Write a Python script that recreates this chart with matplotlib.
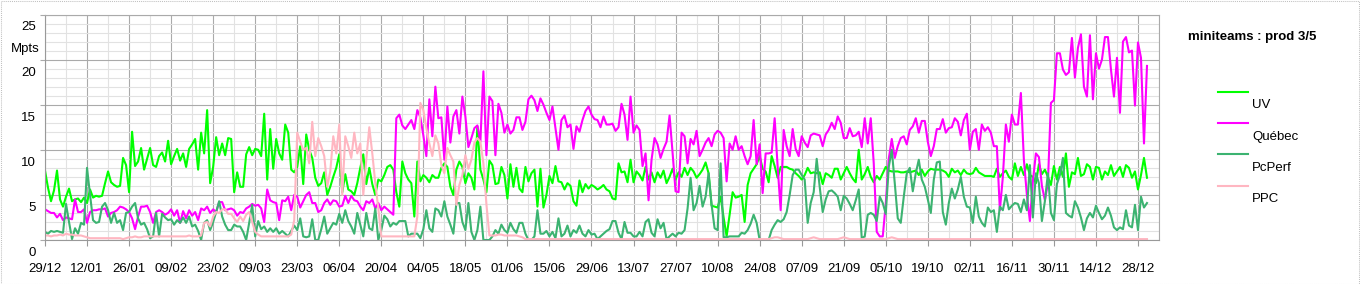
import matplotlib
matplotlib.use("Agg")
import matplotlib.pyplot as plt
from matplotlib.ticker import MultipleLocator
from matplotlib.patches import Rectangle
from matplotlib.lines import Line2D
import numpy as np

plt.rcParams['font.family'] = ['Liberation Sans', 'DejaVu Sans']
plt.rcParams['font.size'] = 9.5

# Legend / series setup
series_names = ['UV', 'Québec', 'PcPerf', 'PPC']
series_colors = ['#00ff00', '#ff00ff', '#3cb371', '#ffb6c1']
chart_title = 'miniteams : prod 3/5'
y_unit = 'Mpts'

# x tick labels, one every 14 days starting at day 0
date_labels = ['29/12', '12/01', '26/01', '09/02', '23/02', '09/03', '23/03',
               '06/04', '20/04', '04/05', '18/05', '01/06', '15/06', '29/06',
               '13/07', '27/07', '10/08', '24/08', '07/09', '21/09', '05/10',
               '19/10', '02/11', '16/11', '30/11', '14/12', '28/12']
y_ticks = [0, 5, 10, 15, 20, 25]

# Daily values (Mpts)
uv = [
    7.7, 5.8, 4.3, 5.5, 7.7, 4.5, 3.7, 4.8, 5.7, 4.3,
    4.5, 4.6, 4.2, 4.7, 4.1, 5.6, 4.7, 4.9, 4.8, 4.9,
    6.3, 7.6, 6.4, 6.1, 5.9, 6.0, 9.1, 8.3, 5.3, 12.0,
    8.2, 8.7, 10.2, 7.8, 9.0, 10.2, 8.3, 8.1, 9.3, 9.7,
    8.7, 11.0, 8.4, 9.3, 10.1, 8.8, 9.6, 8.1, 10.1, 10.6,
    11.2, 7.8, 11.9, 9.6, 14.4, 6.3, 8.1, 11.4, 9.4, 10.7,
    9.4, 11.3, 11.2, 5.3, 7.5, 5.9, 5.9, 9.5, 10.3, 9.4,
    10.1, 10.0, 9.3, 14.0, 6.7, 12.3, 7.9, 11.2, 9.6, 8.9,
    12.8, 11.9, 7.8, 7.5, 8.1, 10.4, 6.2, 11.7, 10.0, 9.1,
    6.9, 6.0, 6.3, 7.5, 5.0, 5.9, 7.0, 8.0, 9.5, 5.3,
    7.3, 5.6, 5.4, 5.0, 6.3, 8.0, 9.5, 6.2, 8.0, 6.2,
    5.0, 6.7, 6.5, 7.2, 8.1, 8.3, 7.8, 5.3, 3.7, 8.7,
    7.4, 6.7, 6.3, 2.6, 8.7, 6.5, 7.2, 6.9, 6.4, 7.2,
    6.9, 6.9, 8.0, 8.5, 8.1, 5.9, 5.0, 7.8, 8.7, 8.1,
    6.3, 7.4, 6.9, 5.6, 12.6, 7.8, 6.7, 5.3, 8.8, 8.3,
    6.2, 6.3, 8.1, 7.2, 4.6, 8.4, 5.9, 8.0, 5.7, 5.3,
    8.1, 6.5, 7.4, 7.8, 3.7, 7.9, 3.6, 5.0, 7.1, 6.3,
    8.2, 6.5, 6.4, 5.6, 6.3, 6.0, 4.3, 3.8, 6.6, 5.3,
    6.2, 5.7, 6.1, 5.9, 5.6, 5.8, 6.1, 5.6, 5.4, 4.6,
    4.5, 8.5, 7.5, 7.6, 6.4, 8.9, 6.4, 7.6, 7.2, 6.6,
    8.1, 6.7, 7.5, 6.4, 7.5, 6.9, 7.7, 6.3, 7.0, 7.9,
    6.7, 7.5, 7.0, 8.0, 7.2, 8.0, 7.6, 6.9, 7.3, 7.8,
    8.6, 7.4, 3.8, 3.7, 3.6, 4.8, 2.5, 0.4, 2.8, 5.3,
    4.7, 4.8, 5.0, 2.0, 6.1, 7.4, 7.9, 8.4, 9.3, 7.9,
    7.6, 6.4, 9.3, 8.2, 6.9, 8.1, 8.1, 8.1, 7.9, 7.8,
    7.4, 7.1, 6.7, 7.2, 8.0, 7.4, 7.5, 7.4, 7.5, 6.2,
    7.4, 7.2, 6.9, 7.9, 7.9, 6.7, 7.4, 8.1, 7.4, 6.8,
    6.4, 10.0, 6.7, 7.3, 8.1, 7.0, 6.4, 7.1, 6.7, 7.4,
    8.1, 7.7, 7.6, 7.6, 7.6, 7.5, 7.5, 7.6, 7.5, 7.6,
    7.7, 7.2, 7.8, 7.1, 7.6, 7.9, 7.8, 7.8, 7.8, 7.7,
    7.5, 7.0, 7.9, 7.5, 7.7, 7.2, 7.8, 7.4, 7.3, 7.4,
    8.0, 7.5, 7.3, 7.1, 7.1, 7.1, 7.0, 7.9, 7.0, 7.4,
    7.7, 7.0, 6.7, 8.5, 7.1, 8.1, 7.2, 8.4, 7.2, 7.0,
    6.3, 8.4, 7.3, 7.8, 7.0, 6.1, 8.2, 6.7, 8.1, 7.0,
    9.6, 5.9, 7.5, 7.3, 9.1, 7.1, 7.3, 8.4, 8.1, 6.7,
    8.1, 8.0, 6.7, 7.6, 7.2, 8.3, 7.1, 7.6, 8.1, 7.0,
    8.3, 8.0, 6.9, 7.6, 5.6, 7.2, 9.1, 6.9,
]

quebec = [
    3.4, 3.2, 3.0, 3.0, 2.5, 2.9, 2.2, 2.5, 2.4, 2.3,
    4.5, 3.1, 3.1, 3.4, 1.9, 3.1, 3.3, 3.3, 3.4, 3.4,
    3.5, 2.6, 3.0, 3.1, 3.3, 3.7, 3.6, 3.4, 3.1, 2.4,
    1.2, 2.6, 3.7, 3.7, 3.8, 3.1, 1.9, 3.1, 3.3, 3.1,
    2.8, 3.0, 3.4, 2.7, 3.3, 1.9, 3.2, 2.4, 3.3, 2.7,
    3.1, 2.2, 3.5, 3.3, 3.7, 3.0, 3.4, 3.1, 4.2, 4.2,
    3.3, 3.4, 3.5, 3.3, 2.7, 3.1, 3.0, 3.5, 3.7, 4.0,
    3.8, 3.9, 3.5, 2.0, 5.6, 4.4, 4.2, 4.1, 2.2, 4.4,
    4.3, 4.8, 3.3, 5.0, 4.8, 3.6, 4.3, 5.0, 5.3, 4.1,
    4.1, 3.1, 3.3, 4.1, 4.5, 3.9, 4.4, 4.3, 3.7, 3.8,
    4.9, 4.1, 4.9, 4.4, 4.3, 3.7, 3.3, 4.3, 4.1, 4.5,
    3.5, 4.1, 3.3, 3.7, 3.4, 3.1, 2.8, 13.5, 13.9, 12.7,
    12.3, 12.8, 13.3, 12.3, 14.4, 13.6, 11.6, 9.3, 15.6, 11.5,
    17.0, 13.5, 13.6, 8.9, 14.8, 10.8, 13.7, 14.4, 11.8, 15.9,
    13.7, 10.3, 11.3, 12.4, 12.7, 10.9, 18.7, 9.4, 15.9, 15.4,
    9.4, 15.1, 14.1, 11.9, 12.8, 11.8, 12.2, 13.6, 13.6, 12.2,
    13.1, 15.6, 16.0, 15.5, 14.3, 15.7, 15.0, 14.1, 13.3, 14.8,
    12.4, 10.0, 13.3, 13.8, 12.5, 12.8, 10.1, 12.6, 12.0, 13.3,
    14.3, 14.8, 13.9, 13.4, 13.3, 12.5, 13.7, 12.8, 12.8, 12.9,
    12.1, 12.5, 15.1, 13.9, 11.1, 15.9, 11.9, 12.7, 12.2, 8.2,
    9.6, 4.4, 8.9, 11.3, 10.6, 9.1, 10.1, 10.9, 13.8, 9.7,
    5.4, 5.3, 11.9, 11.5, 8.5, 11.2, 10.6, 12.1, 9.3, 10.0,
    10.8, 11.3, 10.4, 11.7, 12.1, 11.9, 11.3, 6.5, 10.7, 10.0,
    11.5, 10.0, 10.4, 9.3, 8.4, 9.3, 13.3, 8.4, 10.6, 5.2,
    9.6, 9.6, 9.7, 13.5, 8.1, 3.3, 12.2, 10.4, 9.3, 12.3,
    10.1, 9.3, 11.5, 10.8, 10.3, 11.6, 11.8, 11.7, 11.6, 10.4,
    11.7, 12.2, 13.0, 12.3, 13.7, 13.0, 11.3, 11.3, 12.4, 11.5,
    11.6, 12.0, 10.3, 13.5, 10.7, 13.5, 8.5, 0.9, 0.4, 0.4,
    4.0, 9.0, 11.2, 9.1, 10.4, 11.3, 11.5, 10.6, 12.2, 12.6,
    13.5, 11.9, 13.2, 13.2, 10.9, 9.3, 10.4, 12.3, 12.3, 13.4,
    11.9, 12.4, 12.5, 13.5, 13.1, 11.6, 13.3, 14.0, 10.0, 12.0,
    12.3, 10.0, 12.8, 12.1, 12.5, 11.9, 10.4, 10.4, 3.3, 7.0,
    12.8, 10.9, 13.9, 12.8, 12.8, 16.3, 8.9, 5.0, 2.1, 6.5,
    9.6, 9.2, 6.0, 4.4, 6.3, 15.2, 15.5, 20.7, 20.7, 18.9,
    18.3, 18.6, 22.4, 18.0, 21.3, 22.8, 17.0, 15.9, 22.7, 15.6,
    20.7, 19.0, 20.0, 22.5, 22.5, 18.9, 15.9, 20.2, 14.1, 22.0,
    22.5, 20.8, 21.0, 14.9, 21.9, 20.2, 10.7, 19.3,
]

pcperf = [
    0.9, 0.7, 1.0, 0.9, 1.0, 0.9, 0.8, 4.0, 2.0, 0.1,
    1.3, 0.7, 1.9, 1.7, 8.0, 5.0, 2.2, 1.9, 2.0, 3.7,
    4.1, 3.3, 1.9, 3.0, 1.9, 2.2, 1.1, 3.0, 3.1, 3.7,
    4.1, 2.4, 1.7, 1.9, 1.2, 0.2, 0.4, 3.0, 0.4, 2.9,
    2.5, 2.2, 2.3, 1.7, 2.2, 1.9, 2.5, 1.9, 2.6, 1.5,
    1.7, 1.0, 0.0, 1.9, 2.2, 1.1, 2.0, 3.1, 4.3, 2.6,
    1.7, 1.1, 1.1, 1.7, 1.5, 1.5, 0.9, 0.0, 1.9, 3.9,
    0.4, 2.1, 1.2, 1.5, 0.9, 1.3, 0.9, 1.3, 0.7, 1.0,
    0.7, 0.4, 1.0, 1.6, 1.1, 2.4, 0.4, 0.3, 0.4, 2.3,
    0.0, 0.0, 1.2, 2.6, 0.7, 1.3, 1.9, 1.7, 2.9, 1.9,
    3.3, 2.1, 1.5, 0.7, 3.0, 1.7, 0.4, 3.0, 1.3, 1.1,
    3.5, 0.0, 1.1, 2.7, 2.3, 1.5, 1.9, 1.7, 2.1, 2.1,
    2.1, 0.4, 0.7, 0.7, 0.7, 0.2, 1.2, 3.3, 1.3, 0.9,
    3.5, 3.3, 2.6, 4.3, 2.6, 1.7, 0.7, 4.1, 4.1, 2.0,
    1.1, 4.1, 0.9, 0.0, 1.1, 3.7, 0.0, 0.0, 0.0, 0.4,
    1.1, 0.7, 1.7, 1.1, 0.8, 1.9, 1.2, 0.8, 1.9, 1.9,
    0.7, 0.0, 0.0, 0.4, 3.3, 0.7, 0.7, 1.0, 0.4, 0.9,
    0.2, 2.4, 0.4, 0.7, 1.6, 0.4, 1.1, 0.8, 1.6, 0.7,
    0.4, 1.1, 0.6, 0.7, 0.1, 0.4, 0.7, 1.0, 1.2, 2.1,
    2.1, 0.8, 0.1, 2.0, 0.8, 0.8, 0.4, 0.4, 0.9, 0.4,
    2.0, 2.3, 0.8, 0.4, 2.3, 1.3, 1.9, 0.1, 0.4, 0.7,
    0.4, 0.8, 0.7, 1.1, 3.5, 6.9, 3.3, 4.1, 6.0, 3.7,
    4.8, 7.4, 3.9, 1.3, 1.1, 8.5, 0.3, 0.3, 0.4, 0.4,
    0.4, 0.4, 0.8, 0.7, 1.1, 1.8, 2.8, 1.9, 0.0, 0.0,
    0.0, 0.0, 1.1, 1.7, 2.2, 2.0, 2.3, 3.1, 5.0, 7.2,
    7.8, 7.8, 7.2, 6.7, 1.9, 4.1, 5.3, 9.0, 5.9, 3.1,
    4.5, 5.4, 5.5, 5.2, 4.8, 3.3, 4.9, 4.6, 4.0, 3.3,
    4.4, 5.6, 0.2, 0.4, 2.8, 3.0, 2.8, 2.1, 4.8, 4.1,
    2.9, 8.1, 10.0, 6.3, 2.4, 1.9, 4.8, 7.4, 8.0, 5.4,
    7.4, 8.9, 6.7, 5.9, 4.5, 3.0, 6.7, 8.6, 8.7, 3.1,
    1.7, 4.1, 5.7, 4.6, 5.6, 7.0, 4.8, 3.7, 3.6, 1.9,
    4.8, 2.6, 1.9, 1.5, 3.6, 3.1, 3.3, 0.9, 3.7, 3.3,
    5.0, 3.4, 3.8, 4.1, 4.0, 3.1, 4.5, 3.3, 8.3, 2.5,
    7.4, 6.3, 2.1, 4.3, 7.4, 3.0, 2.2, 6.2, 7.2, 9.1,
    3.0, 2.7, 2.5, 4.3, 3.6, 2.5, 1.1, 2.4, 3.0, 2.5,
    3.8, 3.0, 2.3, 2.7, 3.6, 2.7, 1.4, 1.1, 1.4, 1.2,
    3.3, 1.6, 1.4, 3.9, 1.1, 4.8, 3.6, 4.1,
]

ppc = [
    0.5, 0.5, 0.4, 0.5, 0.5, 0.6, 0.5, 0.7, 0.6, 0.6,
    0.5, 0.5, 0.5, 0.4, 0.3, 0.2, 0.2, 0.2, 0.2, 0.2,
    0.2, 0.2, 0.2, 0.2, 0.2, 0.2, 0.1, 0.2, 0.3, 0.3,
    0.4, 0.3, 0.3, 0.4, 0.4, 0.4, 0.4, 0.4, 0.4, 0.4,
    0.4, 0.4, 0.4, 0.4, 0.4, 0.4, 0.4, 0.4, 0.5, 0.4,
    0.4, 0.4, 0.5, 1.9, 2.0, 1.5, 2.6, 3.1, 3.0, 3.4,
    3.4, 2.9, 2.9, 2.4, 2.0, 2.6, 2.1, 2.8, 3.1, 2.0,
    0.9, 0.6, 0.4, 0.4, 0.4, 0.4, 0.4, 0.4, 0.4, 0.4,
    0.4, 0.4, 0.6, 2.2, 11.9, 10.9, 10.0, 10.2, 8.5, 13.1,
    9.3, 11.3, 10.4, 9.3, 5.9, 7.6, 11.5, 9.6, 12.8, 5.0,
    11.5, 10.4, 9.1, 11.9, 9.6, 10.7, 5.0, 8.9, 12.5, 9.6,
    6.3, 3.5, 0.4, 0.4, 0.4, 0.4, 0.4, 0.4, 0.4, 0.4,
    0.4, 0.4, 0.4, 0.4, 2.6, 15.2, 14.4, 12.4, 10.7, 9.3,
    11.6, 10.7, 8.3, 7.4, 10.2, 9.4, 8.7, 3.9, 6.1, 7.2,
    9.4, 7.9, 8.9, 10.8, 11.3, 10.9, 8.5, 4.0, 0.5, 0.5,
    0.5, 0.6, 0.6, 0.5, 0.5, 0.5, 0.5, 0.5, 0.4, 0.3,
    0.1, 0.1, 0.1, 0.1, 0.1, 0.1, 0.1, 0.1, 0.1, 0.1,
    0.1, 0.1, 0.1, 0.1, 0.1, 0.1, 0.1, 0.1, 0.1, 0.1,
    0.1, 0.1, 0.1, 0.1, 0.1, 0.1, 0.1, 0.1, 0.1, 0.1,
    0.1, 0.1, 0.1, 0.1, 0.1, 0.1, 0.1, 0.1, 0.1, 0.1,
    0.1, 0.1, 0.1, 0.1, 0.1, 0.1, 0.1, 0.1, 0.1, 0.1,
    0.1, 0.1, 0.1, 0.1, 0.1, 0.1, 0.1, 0.1, 0.1, 0.1,
    0.1, 0.1, 0.1, 0.1, 0.1, 0.1, 0.1, 0.1, 0.1, 0.1,
    0.1, 0.1, 0.1, 0.1, 0.1, 0.1, 0.1, 0.1, 0.1, 0.1,
    0.1, 0.1, 0.2, 0.3, 0.3, 0.2, 0.1, 0.1, 0.1, 0.1,
    0.1, 0.1, 0.1, 0.1, 0.1, 0.2, 0.3, 0.2, 0.1, 0.1,
    0.1, 0.1, 0.1, 0.1, 0.1, 0.2, 0.3, 0.2, 0.1, 0.1,
    0.1, 0.1, 0.1, 0.1, 0.1, 0.1, 0.1, 0.1, 0.1, 0.1,
    0.1, 0.2, 0.3, 0.2, 0.1, 0.1, 0.1, 0.1, 0.1, 0.1,
    0.1, 0.1, 0.1, 0.1, 0.1, 0.1, 0.1, 0.1, 0.1, 0.1,
    0.1, 0.1, 0.1, 0.1, 0.1, 0.1, 0.1, 0.1, 0.1, 0.1,
    0.1, 0.1, 0.1, 0.1, 0.1, 0.1, 0.1, 0.1, 0.1, 0.1,
    0.1, 0.1, 0.1, 0.1, 0.1, 0.1, 0.1, 0.1, 0.1, 0.1,
    0.1, 0.1, 0.1, 0.1, 0.1, 0.1, 0.1, 0.1, 0.1, 0.1,
    0.1, 0.1, 0.1, 0.1, 0.1, 0.1, 0.1, 0.1, 0.1, 0.1,
    0.1, 0.1, 0.1, 0.1, 0.1, 0.1, 0.1, 0.1, 0.1, 0.1,
    0.1, 0.1, 0.1, 0.1, 0.1, 0.1, 0.1, 0.1,
]

all_series = [uv, quebec, pcperf, ppc]
days = np.arange(len(uv))

W, H = 1360, 284
fig = plt.figure(figsize=(W / 100, H / 100), dpi=100)
# plot area in pixels: x 45..1159, y 14.5..240 (from top)
ax = fig.add_axes([45 / W, (H - 240) / H, (1159 - 45) / W, (240 - 14.5) / H])

for vals, name, col in zip(all_series, series_names, series_colors):
    ax.plot(days, vals, color=col, lw=1.5, label=name)

ax.set_xlim(0, 371)
ax.set_ylim(0, 25)

# grid
ax.set_axisbelow(True)
ax.set_xticks(np.arange(len(date_labels)) * 14)
ax.set_xticklabels(date_labels)
ax.xaxis.set_minor_locator(MultipleLocator(7))
ax.set_yticks(y_ticks)
ax.yaxis.set_minor_locator(MultipleLocator(1))
ax.grid(which='major', color='#aaaaaa', lw=0.8)
ax.grid(which='minor', color='#e2e2e2', lw=0.8)
for sp in ax.spines.values():
    sp.set_color('#aaaaaa')
    sp.set_linewidth(0.8)
ax.spines['left'].set_color('#999999')
ax.spines['bottom'].set_color('#999999')

ax.tick_params(axis='x', which='major', length=4.3, color='#999999', pad=12.5,
               labelcolor='black')
ax.tick_params(axis='y', which='major', length=3.6, color='#aaaaaa',
               labelleft=False)
ax.tick_params(which='minor', length=0)

# y labels sit below their grid lines in the original
for v in y_ticks:
    ax.annotate(str(v), xy=(0, v), xycoords=('axes fraction', 'data'),
                xytext=(-9, -13), textcoords='offset pixels',
                ha='right', va='center')

fig.text(25 / W, 1 - 48.7 / H, y_unit, ha='center', va='center')

# legend drawn by hand
fig.text(1188 / W, 1 - 37 / H, chart_title, fontweight='bold',
         ha='left', va='center')
line_y = [91.7, 123, 154.3, 185.7]
for i, (name, col) in enumerate(zip(series_names, series_colors)):
    yy = 1 - line_y[i] / H
    fig.add_artist(Line2D([1218 / W, 1248 / W], [yy, yy], color=col, lw=1.5,
                          transform=fig.transFigure))
    fig.text(1252 / W, 1 - (line_y[i] + 13.5) / H, name, ha='left', va='center')

# dotted frame around the whole picture
fig.add_artist(Rectangle((0.5 / W, 0.5 / H), 1 - 1.5 / W, 1 - 1.5 / H,
                         transform=fig.transFigure, fill=False,
                         ec='#c0c0c0', ls=(0, (1, 1)), lw=0.75))

fig.savefig('out.png', dpi=100)
